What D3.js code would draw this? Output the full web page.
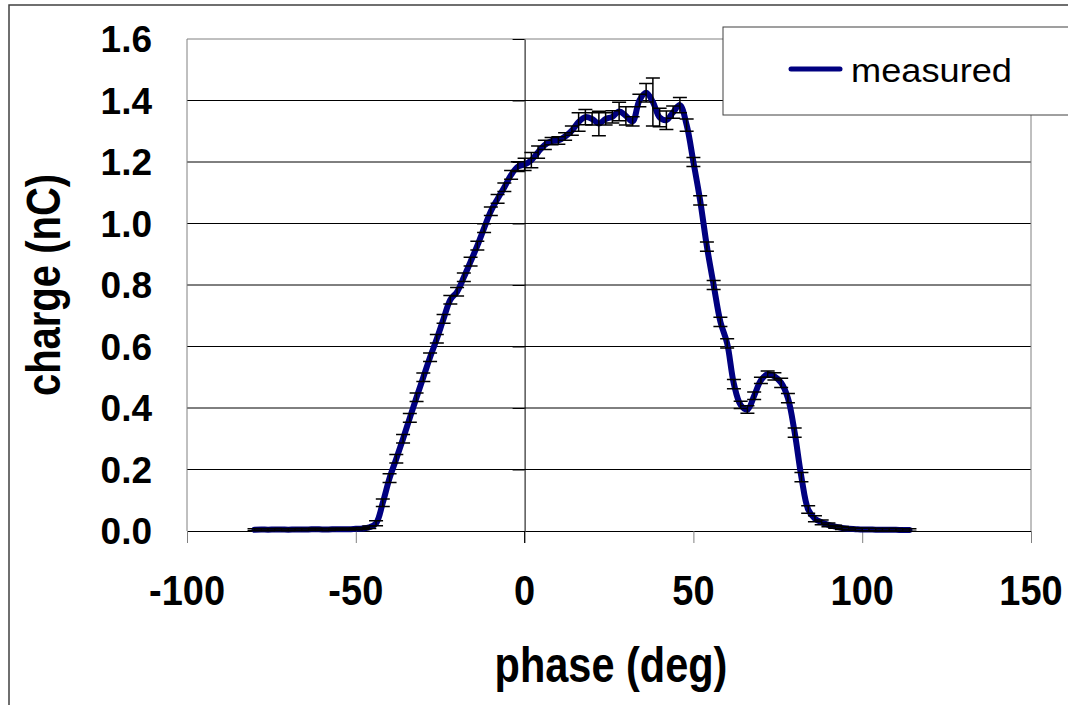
<!DOCTYPE html>
<html>
<head>
<meta charset="utf-8">
<script src="https://cdn.jsdelivr.net/npm/d3@7"></script>
<style>
body { margin: 0; background: #fff; }
text { font-family: "Liberation Sans", Arial, sans-serif; }
</style>
</head>
<body>
<div id="chart"></div>
<script>
// ------------------------------------------------------------------
//	charge vs phase, measured with error bars
// ------------------------------------------------------------------
const phase = [
	-80,-78,-76,-74,-72,-70,-68,-66,-64,-62,
	-60,-58,-56,-54,-52,-50,-48,-46,-44,-42,
	-40,-38,-36,-34,-32,-30,-28,-26,-24,-22,
	-20,-18,-16,-14,-12,-10,-8,-6,-4,-2,
	0,2,4,6,8,10,12,14,16,18,
	20,22,24,26,28,30,32,34,36,38,
	40,42,44,46,48,50,52,54,56,58,
	60,62,64,66,68,70,72,74,76,78,
	80,82,84,86,88,90,92,94,96,98,
	100,102,104,106,108,110,112,114]

const charge = [
	0.004,0.005,0.004,0.005,0.005,0.004,0.005,0.005,0.005,0.006,
	0.005,0.005,0.006,0.006,0.006,0.007,0.008,0.012,0.025,0.092,
	0.172,0.235,0.300,0.368,0.435,0.500,0.565,0.625,0.690,0.752,
	0.778,0.825,0.876,0.928,0.985,1.040,1.080,1.118,1.158,1.185,
	1.192,1.206,1.232,1.256,1.268,1.270,1.283,1.302,1.330,1.346,
	1.340,1.325,1.340,1.347,1.364,1.350,1.332,1.400,1.425,1.395,
	1.345,1.336,1.362,1.385,1.320,1.200,1.075,0.925,0.800,0.680,
	0.610,0.478,0.410,0.395,0.440,0.490,0.510,0.503,0.482,0.432,
	0.320,0.175,0.070,0.040,0.028,0.020,0.014,0.010,0.007,0.006,
	0.005,0.005,0.004,0.004,0.004,0.004,0.003,0.003]

const chargeErr = [
	0.003,0.003,0.003,0.003,0.003,0.003,0.003,0.003,0.003,0.003,
	0.003,0.003,0.003,0.003,0.003,0.003,0.003,0.004,0.008,0.012,
	0.014,0.014,0.014,0.014,0.014,0.014,0.014,0.014,0.014,0.014,
	0.014,0.014,0.014,0.014,0.014,0.014,0.014,0.014,0.014,0.016,
	0.020,0.025,0.020,0.015,0.012,0.012,0.012,0.015,0.030,0.025,
	0.020,0.040,0.020,0.020,0.030,0.030,0.015,0.020,0.030,0.078,
	0.030,0.030,0.020,0.025,0.020,0.015,0.015,0.015,0.015,0.015,
	0.015,0.015,0.012,0.012,0.012,0.010,0.010,0.012,0.015,0.015,
	0.015,0.015,0.012,0.010,0.008,0.006,0.005,0.005,0.004,0.004,
	0.004,0.004,0.004,0.004,0.004,0.004,0.004,0.004]

const xTicks = [-100,-50,0,50,100,150]
const yTicks = [0,0.2,0.4,0.6,0.8,1.0,1.2,1.4,1.6]
const seriesName = "measured"
const xTitle = "phase (deg)"
const yTitle = "charge (nC)"

// ------------------------------------------------------------------
const width = 1068, height = 705
const plot = {left: 187, right: 1031, top: 39, bottom: 531}
const lineColor = "#000080"

const svg = d3.select("#chart").append("svg")
	.attr("width", width)
	.attr("height", height)

const x = d3.scaleLinear().domain([-100, 150]).range([plot.left, plot.right])
const y = d3.scaleLinear().domain([0, 1.6]).range([plot.bottom, plot.top])

// outer chart frame (cropped on right and bottom)
svg.append("rect")
	.attr("x", 9).attr("y", 5)
	.attr("width", 1200).attr("height", 900)
	.attr("fill", "#fff")
	.attr("stroke", "#404040")
	.attr("stroke-width", 1.5)

// horizontal gridlines
svg.append("g").selectAll("line")
	.data(yTicks.filter(d => d > 0 && d < 1.6))
	.enter().append("line")
	.attr("x1", plot.left).attr("x2", plot.right)
	.attr("y1", d => y(d)).attr("y2", d => y(d))
	.attr("stroke", "#000")
	.attr("stroke-width", 1)

// plot area border (left, top, right)
svg.append("path")
	.attr("d", `M${plot.left},${plot.bottom}V${plot.top}H${plot.right}V${plot.bottom}`)
	.attr("fill", "none")
	.attr("stroke", "#808080")
	.attr("stroke-width", 1)

// x axis along y = 0
const gx = svg.append("g")
	.attr("transform", "translate(0," + y(0) + ")")
	.call(d3.axisBottom(x).tickValues(xTicks).tickSize(12).tickFormat(""))
gx.select(".domain").attr("stroke", "#000")
gx.selectAll(".tick line").attr("stroke", "#808080")

// y axis crossing at phase = 0
const gy = svg.append("g")
	.attr("transform", "translate(" + x(0) + ",0)")
	.call(d3.axisLeft(y).tickValues(yTicks).tickSize(12).tickFormat("").tickSizeOuter(0))
gy.select(".domain").attr("stroke", "#000")
gy.selectAll(".tick line").attr("stroke", "#000")
svg.append("line")
	.attr("x1", x(0)).attr("x2", x(0))
	.attr("y1", y(0)).attr("y2", y(0) + 12)
	.attr("stroke", "#000")

// tick labels
svg.append("g").selectAll("text")
	.data(xTicks)
	.enter().append("text")
	.attr("transform", d => "translate(" + x(d) + ",605) scale(1,1.12)")
	.attr("text-anchor", "middle")
	.attr("font-size", 38)
	.attr("font-weight", "bold")
	.text(d => d)

svg.append("g").selectAll("text")
	.data(yTicks)
	.enter().append("text")
	.attr("x", 152)
	.attr("y", d => y(d) + 13)
	.attr("text-anchor", "end")
	.attr("font-size", 37)
	.attr("font-weight", "bold")
	.text(d => d3.format(".1f")(d))

// axis titles
svg.append("text")
	.attr("transform", "translate(611,682) scale(1,1.2)")
	.attr("text-anchor", "middle")
	.attr("font-size", 41.5)
	.attr("font-weight", "bold")
	.text(xTitle)

svg.append("text")
	.attr("transform", "translate(60,285) rotate(-90) scale(1,1.2)")
	.attr("text-anchor", "middle")
	.attr("font-size", 40)
	.attr("font-weight", "bold")
	.text(yTitle)

// data
const data = phase.map((p, i) => ({phase: p, charge: charge[i], err: chargeErr[i]}))

const line = d3.line()
	.x(d => x(d.phase))
	.y(d => y(d.charge))
	.curve(d3.curveCatmullRom.alpha(0.5))

svg.append("path")
	.datum(data)
	.attr("d", line)
	.attr("fill", "none")
	.attr("stroke", lineColor)
	.attr("stroke-width", 6)
	.attr("stroke-linejoin", "round")
	.attr("stroke-linecap", "round")

// error bars
const cap = 7
const eb = svg.append("g")
	.attr("stroke", "#000")
	.attr("stroke-width", 1.5)
	.attr("fill", "none")
eb.selectAll("path")
	.data(data)
	.enter().append("path")
	.attr("d", d => {
		const px = x(d.phase), y1 = y(d.charge + d.err), y2 = y(d.charge - d.err)
		return `M${px},${y1}V${y2}M${px - cap},${y1}H${px + cap}M${px - cap},${y2}H${px + cap}`
	})

// legend
const lg = svg.append("g")
lg.append("rect")
	.attr("x", 723).attr("y", 27)
	.attr("width", 400).attr("height", 88)
	.attr("fill", "#fff")
	.attr("stroke", "#404040")
	.attr("stroke-width", 1)
lg.append("line")
	.attr("x1", 791).attr("x2", 840)
	.attr("y1", 69).attr("y2", 69)
	.attr("stroke", lineColor)
	.attr("stroke-width", 5)
	.attr("stroke-linecap", "round")
lg.append("text")
	.attr("x", 851).attr("y", 82)
	.attr("font-size", 33)
	.attr("textLength", 161)
	.attr("lengthAdjust", "spacingAndGlyphs")
	.text(seriesName)
</script>
</body>
</html>
